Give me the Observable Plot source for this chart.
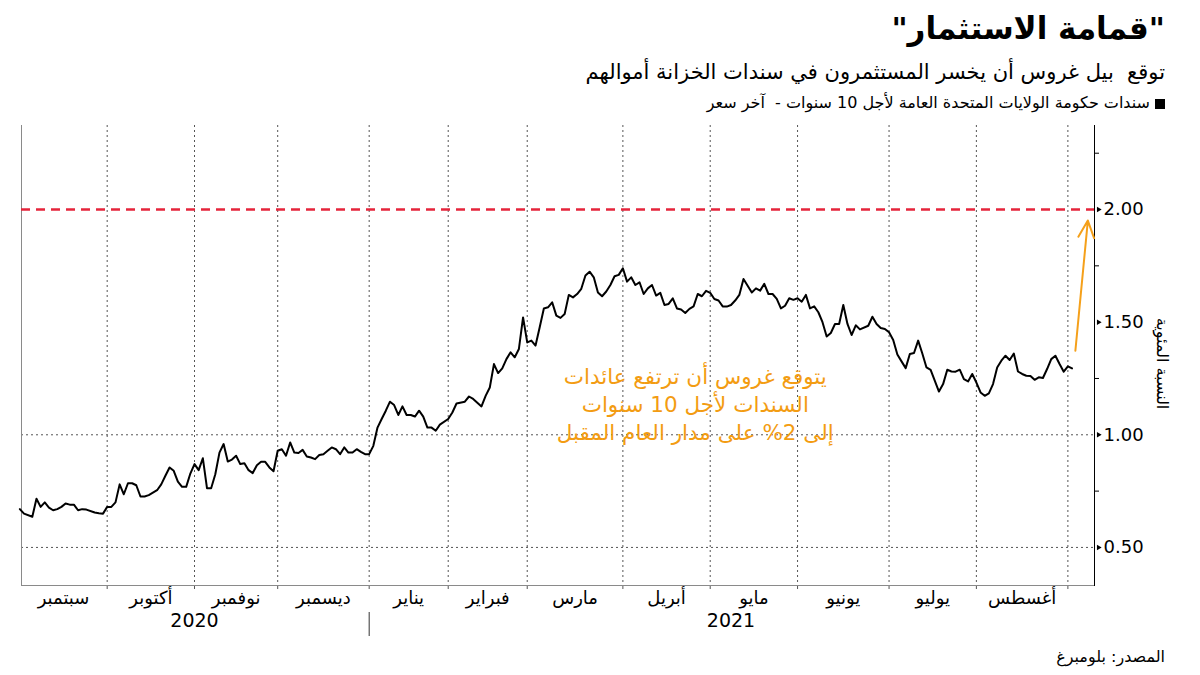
<!DOCTYPE html>
<html>
<head>
<meta charset="utf-8">
<script src="https://cdn.jsdelivr.net/npm/d3@7"></script>
<script src="https://cdn.jsdelivr.net/npm/@observablehq/plot@0.6"></script>
<style>
  html, body { margin: 0; padding: 0; background: #fff; }
  body { width: 1200px; height: 675px; position: relative; overflow: hidden; font-family: "DejaVu Sans", sans-serif; color: #000; }
  .t { position: absolute; right: 35px; direction: rtl; white-space: pre; color: #000; }
  #title { top: 6px; font-size: 31px; font-weight: bold; line-height: 44px; }
  #sub { top: 57px; font-size: 21px; line-height: 30px; }
  #leg { top: 93px; font-size: 16px; line-height: 19px; }
  #leg .sq { display: inline-block; width: 10px; height: 10px; background: #000; margin-left: 5px; vertical-align: -1px; }
  #src { top: 647px; font-size: 16px; line-height: 20px; }
  #chart { position: absolute; left: 0; top: 120px; }
</style>
</head>
<body>
<div id="title" class="t"></div>
<div id="sub" class="t"></div>
<div id="leg" class="t"></div>
<div id="src" class="t"></div>
<div id="chart"></div>
<script>
// ---- text ----
const titleText = "\"قمامة الاستثمار\"";
const subtitleText = "توقع  بيل غروس أن يخسر المستثمرون في سندات الخزانة أموالهم";
const legendText = "سندات حكومة الولايات المتحدة العامة لأجل 10 سنوات -  آخر سعر";
const sourceText = "المصدر: بلومبرغ";
const yAxisTitle = "النسبة المئوية";
const annotationText = "يتوقع غروس أن ترتفع عائدات\nالسندات لأجل 10 سنوات\nإلى 2% على مدار العام المقبل";

// ---- x axis: trading-day index, month boundaries ----
const monthNames = ["سبتمبر","أكتوبر","نوفمبر","ديسمبر","يناير","فبراير","مارس","أبريل","مايو","يونيو","يوليو","أغسطس"];
const monthStarts = [0,21,42,62,84,103,122,145,166,187,209,230,252];
const yearNames = ["2020","2021"];
const yearCenters = [42,171];

// ---- y axis ----
const majorTicks = [0.5,1,1.5,2];
const minorTicks = [0.75,1.25,1.75,2.25];
const gridValues = [0.5,1];
const targetYield = 2;

// ---- US 10-year Treasury yield (%), by trading day ----
const days = [
  0,1,3,4,5,6,7,8,9,10,
  11,12,13,14,15,16,18,19,20,21,
  22,23,24,25,26,27,28,29,30,31,
  33,34,35,36,37,38,39,40,41,42,
  43,44,45,46,47,48,49,50,51,52,
  53,54,55,56,57,58,59,60,61,62,
  63,64,65,66,67,68,69,70,71,72,
  73,74,75,76,77,78,79,80,81,82,
  83,84,85,86,87,88,89,90,91,92,
  93,94,95,96,97,98,99,100,101,103,
  104,105,107,108,109,111,112,113,114,115,
  116,117,118,119,120,121,122,123,124,125,
  126,127,128,129,130,131,132,133,134,135,
  136,137,138,139,140,141,142,143,144,145,
  146,147,148,149,150,151,152,153,154,155,
  156,157,158,159,160,161,162,163,164,165,
  166,167,168,169,170,171,172,173,174,175,
  176,177,178,179,180,181,182,183,184,185,
  186,187,188,189,190,191,192,193,194,195,
  196,197,198,199,200,201,202,204,205,206,
  207,208,209,210,211,212,213,214,215,216,
  217,218,219,221,222,223,224,225,226,227,
  228,229,230,231,232,233,234,235,236,237,
  238,239,240,241,242,243,244,245,246,247,
  248,249,250,251,252,253
];
const yields = [
  0.670,0.650,0.636,0.716,0.680,0.700,0.677,0.665,0.670,0.680,
  0.695,0.690,0.690,0.665,0.670,0.668,0.655,0.652,0.650,0.680,
  0.680,0.700,0.780,0.736,0.785,0.785,0.776,0.726,0.726,0.732,
  0.754,0.780,0.818,0.855,0.840,0.792,0.769,0.769,0.828,0.870,
  0.843,0.896,0.763,0.763,0.825,0.921,0.959,0.881,0.890,0.907,
  0.870,0.874,0.843,0.830,0.865,0.880,0.880,0.855,0.838,0.929,
  0.936,0.907,0.966,0.921,0.919,0.933,0.904,0.899,0.892,0.910,
  0.914,0.929,0.944,0.936,0.914,0.944,0.921,0.921,0.936,0.924,
  0.914,0.914,0.951,1.032,1.070,1.107,1.147,1.132,1.088,1.126,
  1.088,1.088,1.081,1.107,1.081,1.032,1.032,1.018,1.045,1.070,
  1.099,1.139,1.147,1.170,1.159,1.126,1.173,1.210,1.314,1.274,
  1.295,1.336,1.366,1.344,1.381,1.521,1.410,1.418,1.396,1.477,
  1.561,1.566,1.588,1.529,1.519,1.536,1.621,1.610,1.625,1.648,
  1.707,1.724,1.699,1.632,1.615,1.636,1.665,1.704,1.710,1.739,
  1.680,1.699,1.665,1.677,1.625,1.650,1.665,1.618,1.630,1.576,
  1.581,1.606,1.561,1.556,1.541,1.559,1.570,1.625,1.615,1.639,
  1.630,1.603,1.596,1.570,1.569,1.576,1.596,1.621,1.692,1.662,
  1.632,1.650,1.640,1.670,1.625,1.625,1.603,1.561,1.573,1.606,
  1.599,1.606,1.591,1.621,1.561,1.570,1.544,1.500,1.436,1.452,
  1.492,1.492,1.576,1.492,1.443,1.486,1.468,1.484,1.524,1.492,
  1.474,1.470,1.455,1.421,1.356,1.326,1.296,1.359,1.363,1.418,
  1.361,1.299,1.288,1.192,1.225,1.289,1.281,1.280,1.289,1.247,
  1.237,1.270,1.232,1.188,1.173,1.184,1.225,1.299,1.329,1.351,
  1.332,1.361,1.281,1.270,1.262,1.261,1.244,1.255,1.252,1.292,
  1.336,1.351,1.314,1.280,1.304,1.295
];

// ---- annotation arrow (day, yield) ----
const arrowFrom = [253.8, 1.373];
const arrowTo = [256.8, 1.951];
const annotationAt = [162.4, 1.142];

// ---- header / footer text ----
document.getElementById("title").textContent = titleText;
document.getElementById("sub").textContent = subtitleText;
document.getElementById("leg").innerHTML = '<span class="sq"></span>' + legendText;
document.getElementById("src").textContent = sourceText;

const points = days.map((d, i) => ({day: d, yield: yields[i]}));
const months = monthNames.map((name, i) => ({name, mid: (monthStarts[i] + monthStarts[i + 1]) / 2}));
const years = yearNames.map((name, i) => ({name, mid: yearCenters[i]}));

const orange = "#f5a01a";

const chart = Plot.plot({
  width: 1200,
  height: 523,
  marginTop: 5,
  marginBottom: 58,
  marginLeft: 21,
  marginRight: 106,
  x: {type: "linear", domain: [0.4, 258.4]},
  y: {domain: [0.331, 2.373]},
  style: {fontFamily: "'DejaVu Sans', sans-serif", color: "#000", background: "#fff", overflow: "visible"},
  marks: [
    Plot.ruleX(monthStarts.slice(1), {stroke: "#555", strokeDasharray: "2,3", strokeWidth: 1}),
    Plot.ruleY(gridValues, {stroke: "#555", strokeDasharray: "2,3", strokeWidth: 1}),
    Plot.axisX(monthStarts.slice(1), {anchor: "bottom", tickSize: 4, tickFormat: () => "", label: null, stroke: "#555"}),
    Plot.frame({anchor: "left", stroke: "#8a8a8a"}),
    Plot.frame({anchor: "bottom", stroke: "#8a8a8a"}),
    Plot.frame({anchor: "right", stroke: "#000"}),
    Plot.ruleY([targetYield], {stroke: "#e5243b", strokeWidth: 2.5, strokeDasharray: "9,6"}),
    Plot.line(points, {x: "day", y: "yield", stroke: "#000", strokeWidth: 2, strokeLinejoin: "round"}),
    Plot.arrow([{x1: arrowFrom[0], y1: arrowFrom[1], x2: arrowTo[0], y2: arrowTo[1]}],
      {x1: "x1", y1: "y1", x2: "x2", y2: "y2", stroke: orange, strokeWidth: 2, headLength: 14, headAngle: 50}),
    Plot.text([annotationText], {x: annotationAt[0], y: annotationAt[1], fill: "#f39c12", fontSize: 21.5, lineHeight: 1.3, textAnchor: "middle"}),
    Plot.axisY(majorTicks, {anchor: "right", tickSize: 0, tickPadding: 9, tickFormat: d3.format(".2f"), fontSize: 18, label: null}),
    Plot.axisY(minorTicks, {anchor: "right", tickSize: 4, tickFormat: () => "", label: null}),
    Plot.dot(majorTicks, {y: d => d, frameAnchor: "right", symbol: "triangle2", rotate: 90, r: 2.6, fill: "#000", stroke: null, dx: 4}),
    Plot.text([yAxisTitle], {frameAnchor: "right", textAnchor: "middle", rotate: 90, dx: 68, dy: 8, fontSize: 16}),
    Plot.text(months, {x: "mid", text: "name", frameAnchor: "bottom", dy: 18, fontSize: 18}),
    Plot.text(years, {x: "mid", text: "name", frameAnchor: "bottom", dy: 41, fontSize: 19}),
    Plot.ruleX([monthStarts[4]], {insetTop: 487, insetBottom: -51, stroke: "#333"})
  ]
});
document.getElementById("chart").appendChild(chart);
</script>
</body>
</html>
